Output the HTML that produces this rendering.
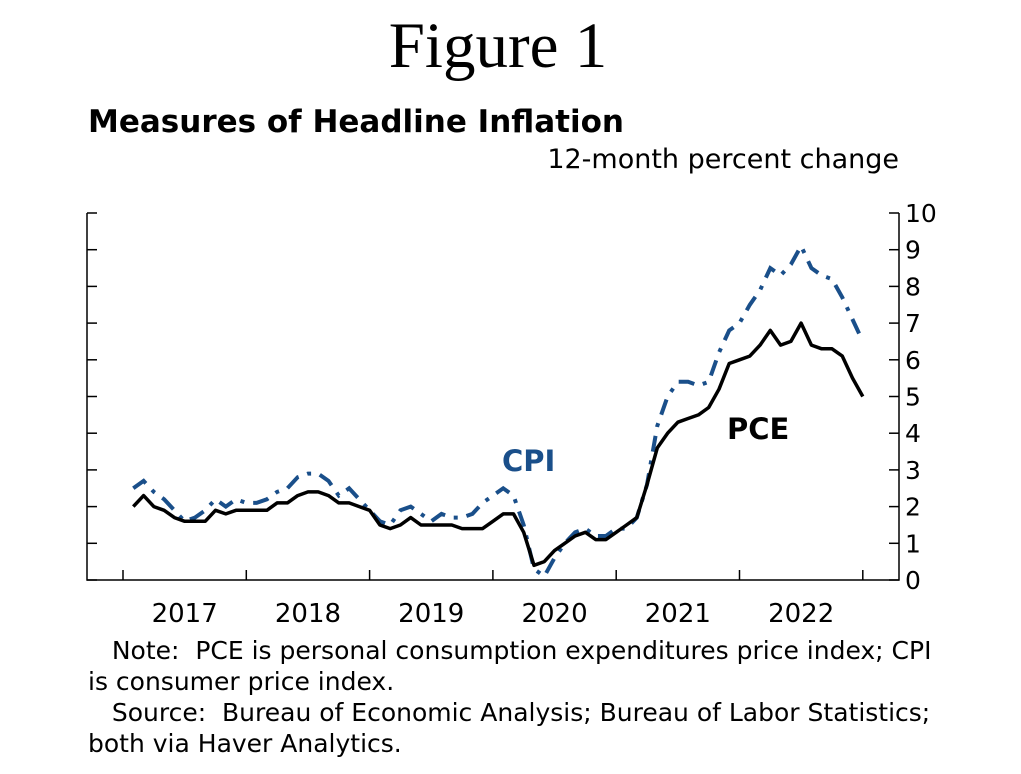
<!DOCTYPE html>
<html><head><meta charset="utf-8"><style>
body{margin:0;background:#fff;width:1021px;height:774px;overflow:hidden;position:relative;font-family:"DejaVu Sans","Liberation Sans",sans-serif}
.t{position:absolute;white-space:nowrap}
</style></head><body>
<div class="t" style="left:0;width:996px;text-align:center;top:9px;font-family:'Liberation Serif',serif;font-size:65px">Figure 1</div>
<div class="t" style="left:88px;top:104px;font-size:31px;font-weight:bold">Measures of Headline Inflation</div>
<div class="t" style="right:122px;top:144px;font-size:27px">12-month percent change</div>
<svg id="chart" width="1021" height="640" style="position:absolute;left:0;top:0"></svg>
<div class="t" style="left:88px;top:635px;font-size:25px;line-height:31px">&nbsp;&nbsp;&nbsp;Note:&nbsp; PCE is personal consumption expenditures price index; CPI<br>is consumer price index.<br>&nbsp;&nbsp;&nbsp;Source:&nbsp; Bureau of Economic Analysis; Bureau of Labor Statistics;<br>both via Haver Analytics.</div>
<script>
const years=["2017","2018","2019","2020","2021","2022"];
const yTicks=[0,1,2,3,4,5,6,7,8,9,10];
const pce=[2.0,2.3,2.0,1.9,1.7,1.6,1.6,1.6,1.9,1.8,1.9,1.9,
1.9,1.9,2.1,2.1,2.3,2.4,2.4,2.3,2.1,2.1,2.0,1.9,
1.5,1.4,1.5,1.7,1.5,1.5,1.5,1.5,1.4,1.4,1.4,1.6,
1.8,1.8,1.3,0.4,0.5,0.8,1.0,1.2,1.3,1.1,1.1,1.3,
1.5,1.7,2.6,3.6,4.0,4.3,4.4,4.5,4.7,5.2,5.9,6.0,
6.1,6.4,6.8,6.4,6.5,7.0,6.4,6.3,6.3,6.1,5.5,5.0];
const cpi=[2.5,2.7,2.4,2.2,1.9,1.6,1.7,1.9,2.2,2.0,2.2,2.1,
2.1,2.2,2.4,2.5,2.8,2.9,2.9,2.7,2.3,2.5,2.2,1.9,
1.6,1.5,1.9,2.0,1.8,1.6,1.8,1.7,1.7,1.8,2.1,2.3,
2.5,2.3,1.5,0.3,0.1,0.6,1.0,1.3,1.4,1.2,1.2,1.4,
1.4,1.7,2.6,4.2,5.0,5.4,5.4,5.3,5.4,6.2,6.8,7.0,
7.5,7.9,8.5,8.3,8.6,9.1,8.5,8.3,8.2,7.7,7.1,6.5];
const L=87,R=899,T=213,B=580,X0=123,MW=123.3/12;
const xs=m=>X0+m*MW, ys=v=>B-(v/10)*(B-T);
const s=document.getElementById('chart'),NS='http://www.w3.org/2000/svg';
function mk(tag,at,p){const e=document.createElementNS(NS,tag);for(const k in at)e.setAttribute(k,at[k]);(p||s).appendChild(e);return e;}
let e;
e=mk('path',{d:`M${L},${T}V${B}H${R}V${T}`,fill:'none',stroke:'#000','stroke-width':1.5});


yTicks.forEach(v=>{
 e=mk('line',{x1:R-10,x2:R,y1:ys(v),y2:ys(v),stroke:'#000','stroke-width':1.5});
 
 
 e=mk('line',{x1:L,x2:L+10,y1:ys(v),y2:ys(v),stroke:'#000','stroke-width':1.5});
 
 
 e=mk('text',{x:905,y:ys(v)+9,'font-size':25,'font-family':'DejaVu Sans, Liberation Sans, sans-serif'});
 e.textContent=v;
 
 
});
for(let i=0;i<=years.length;i++){
 e=mk('line',{x1:xs(i*12),x2:xs(i*12),y1:B-10,y2:B,stroke:'#000','stroke-width':1.5});
 
 
}
years.forEach((y,i)=>{
 e=mk('text',{x:xs(i*12+6),y:622,'font-size':26,'text-anchor':'middle','font-family':'DejaVu Sans, Liberation Sans, sans-serif'});
 e.textContent=y;
 
 
});
const pts=a=>a.map((v,i)=>`${xs(i+1).toFixed(1)},${ys(v).toFixed(1)}`).join(' ');
e=mk('polyline',{points:pts(cpi),fill:'none',stroke:'#1a4f8a','stroke-width':4,'stroke-dasharray':'16 9 4 9'});


e=mk('polyline',{points:pts(pce),fill:'none',stroke:'#000','stroke-width':3.5,'stroke-linejoin':'round'});


e=mk('text',{x:502,y:471,'font-size':29,'font-weight':'bold',fill:'#1a4f8a','font-family':'DejaVu Sans, Liberation Sans, sans-serif'});
e.textContent='CPI';


e=mk('text',{x:727,y:439,'font-size':29,'font-weight':'bold',fill:'#000','font-family':'DejaVu Sans, Liberation Sans, sans-serif'});
e.textContent='PCE';


</script>
</body></html>
